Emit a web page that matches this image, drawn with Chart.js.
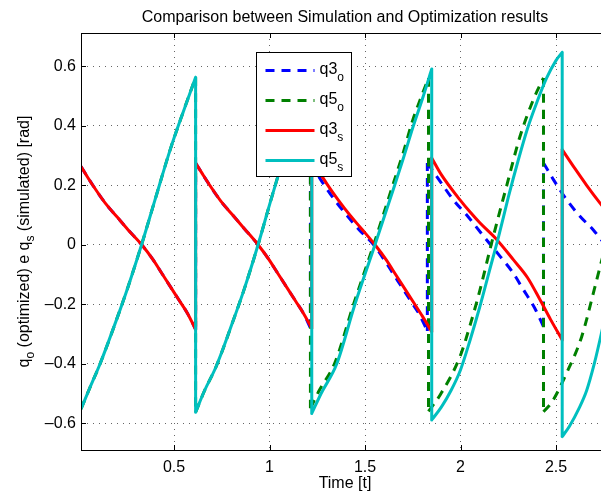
<!DOCTYPE html>
<html>
<head>
<meta charset="utf-8">
<script src="https://cdn.jsdelivr.net/npm/chart.js@4.4.0/dist/chart.umd.min.js"></script>
<style>
  html, body { margin: 0; padding: 0; background: #fff; overflow: hidden; }
  #wrap { width: 615px; height: 495px; }
</style>
</head>
<body>
<div id="wrap"><canvas id="chart" width="615" height="495"></canvas></div>
<script>
// Datos (tiempo en s, ángulos en rad)
const tQ3o = [0.013, 0.04, 0.08, 0.14, 0.2, 0.26, 0.331, 0.39, 0.44, 0.49, 0.53, 0.57, 0.613,
              0.613, 0.647, 0.687, 0.747, 0.807, 0.867, 0.94, 0.997, 1.047, 1.097, 1.137, 1.177, 1.214,
              1.214, 1.25, 1.29, 1.35, 1.41, 1.47, 1.545, 1.60, 1.65, 1.70, 1.74, 1.785, 1.826,
              1.826, 1.893, 1.962, 2.032, 2.119, 2.207, 2.27, 2.329, 2.39, 2.434,
              2.434, 2.486, 2.556, 2.626, 2.695, 2.736, 2.78];
const q3o  = [0.263, 0.235, 0.195, 0.14, 0.095, 0.05, 0, -0.05, -0.10, -0.15, -0.19, -0.23, -0.285,
              0.275, 0.24, 0.20, 0.145, 0.10, 0.055, 0, -0.05, -0.10, -0.15, -0.19, -0.23, -0.28,
              0.275, 0.237, 0.197, 0.143, 0.095, 0.05, 0, -0.05, -0.10, -0.15, -0.19, -0.235, -0.29,
              0.275, 0.213, 0.151, 0.10, 0.03, -0.039, -0.09, -0.151, -0.215, -0.275,
              0.275, 0.219, 0.151, 0.095, 0.05, 0.017, -0.01];

const tQ5o = [0.013, 0.06, 0.113, 0.2, 0.26, 0.33, 0.40, 0.48, 0.55, 0.613,
              0.613, 0.66, 0.72, 0.807, 0.867, 0.94, 1.007, 1.087, 1.157, 1.214,
              1.214, 1.26, 1.34, 1.44, 1.545, 1.65, 1.70, 1.75, 1.79, 1.832,
              1.832, 1.893, 1.997, 2.05, 2.102, 2.16, 2.242, 2.311, 2.381, 2.434,
              2.434, 2.477, 2.556, 2.634, 2.704, 2.74, 2.78];
const q5o  = [-0.552, -0.48, -0.40, -0.25, -0.14, 0, 0.15, 0.32, 0.45, 0.563,
              -0.563, -0.49, -0.41, -0.26, -0.15, 0, 0.15, 0.32, 0.45, 0.555,
              -0.55, -0.49, -0.40, -0.20, 0, 0.21, 0.31, 0.42, 0.49, 0.561,
              -0.56, -0.505, -0.376, -0.27, -0.151, 0, 0.2, 0.364, 0.488, 0.561,
              -0.561, -0.53, -0.43, -0.309, -0.14, -0.05, 0.04];

const tQ3s = [0.013, 0.04, 0.08, 0.14, 0.2, 0.26, 0.331, 0.39, 0.44, 0.49, 0.53, 0.57, 0.613,
              0.613, 0.647, 0.687, 0.747, 0.807, 0.867, 0.94, 0.997, 1.047, 1.097, 1.137, 1.177, 1.221,
              1.221, 1.26, 1.30, 1.36, 1.42, 1.48, 1.552, 1.61, 1.66, 1.71, 1.75, 1.80, 1.849,
              1.849, 1.90, 1.997, 2.05, 2.102, 2.19, 2.276, 2.35, 2.416, 2.47, 2.532,
              2.532, 2.6, 2.66, 2.73, 2.78];
const q3s  = [0.263, 0.235, 0.195, 0.14, 0.095, 0.05, 0, -0.05, -0.10, -0.15, -0.19, -0.23, -0.285,
              0.275, 0.24, 0.20, 0.145, 0.10, 0.055, 0, -0.05, -0.10, -0.15, -0.19, -0.23, -0.28,
              0.285, 0.245, 0.205, 0.15, 0.10, 0.055, 0, -0.05, -0.10, -0.15, -0.19, -0.24, -0.292,
              0.292, 0.235, 0.151, 0.11, 0.073, 0.017, -0.05, -0.11, -0.185, -0.25, -0.32,
              0.32, 0.255, 0.2, 0.14, 0.10];

const tQ5s = [0.013, 0.06, 0.113, 0.2, 0.26, 0.33, 0.40, 0.48, 0.55, 0.613,
              0.613, 0.66, 0.72, 0.807, 0.867, 0.94, 1.007, 1.087, 1.157, 1.221,
              1.221, 1.27, 1.352, 1.447, 1.552, 1.655, 1.70, 1.753, 1.80, 1.849,
              1.849, 1.90, 1.95, 2.00, 2.05, 2.10, 2.15, 2.20, 2.25, 2.30, 2.35, 2.40, 2.45, 2.50, 2.532,
              2.532, 2.57, 2.62, 2.66, 2.70, 2.74, 2.78];
const q5s  = [-0.552, -0.48, -0.40, -0.25, -0.14, 0, 0.15, 0.32, 0.45, 0.563,
              -0.563, -0.49, -0.41, -0.26, -0.15, 0, 0.15, 0.32, 0.45, 0.565,
              -0.567, -0.50, -0.40, -0.20, 0, 0.2, 0.29, 0.40, 0.49, 0.591,
              -0.589, -0.545, -0.49, -0.42, -0.32, -0.21, -0.09, 0.03, 0.16, 0.28, 0.39, 0.48, 0.56, 0.62, 0.647,
              -0.645, -0.61, -0.55, -0.49, -0.40, -0.29, -0.17];

const xTicks = [0.5, 1, 1.5, 2, 2.5];
const yTicks = [-0.6, -0.4, -0.2, 0, 0.2, 0.4, 0.6];

const FONT = "'Liberation Sans', Arial, Helvetica, sans-serif";

// Convierte a puntos; los saltos verticales se dibujan como tramo aparte
function toPoints(t, v) {
    const out = [];
    for (let i = 0; i < t.length; i++) {
        if (i > 0 && t[i] - t[i - 1] < 0.005) {
            out.push({ x: t[i - 1], y: null }, { x: t[i - 1], y: v[i - 1] },
                     { x: t[i], y: v[i] }, { x: t[i], y: null });
        }
        out.push({ x: t[i], y: v[i] });
    }
    return out;
}

const series = [
    { label: ['q3', 'o'], t: tQ3o, v: q3o, color: 'rgb(0, 0, 255)', dash: [9, 7], order: 3 },
    { label: ['q5', 'o'], t: tQ5o, v: q5o, color: 'rgb(0, 128, 0)', dash: [9, 7], order: 2 },
    { label: ['q3', 's'], t: tQ3s, v: q3s, color: 'rgb(255, 0, 0)', dash: [], order: 1 },
    { label: ['q5', 's'], t: tQ5s, v: q5s, color: 'rgb(0, 191, 191)', dash: [], order: 0 }
];

// Título, leyenda, marco y ticks interiores (estilo MATLAB)
const matlabStyle = {
    id: 'matlabStyle',
    afterDatasetsDraw(chart) {
        const ctx = chart.ctx;
        const a = chart.chartArea;
        const xs = chart.scales.x, ys = chart.scales.y;
        ctx.save();
        ctx.strokeStyle = '#000';
        ctx.lineWidth = 1;
        ctx.setLineDash([]);
        ctx.strokeRect(Math.round(a.left) + 0.5, Math.round(a.top) + 0.5,
                       Math.round(a.right - a.left), Math.round(a.bottom - a.top));
        ctx.beginPath();
        xTicks.forEach(v => {
            const px = Math.round(xs.getPixelForValue(v)) + 0.5;
            ctx.moveTo(px, a.bottom); ctx.lineTo(px, a.bottom - 5);
            ctx.moveTo(px, a.top); ctx.lineTo(px, a.top + 5);
        });
        yTicks.forEach(v => {
            const py = Math.round(ys.getPixelForValue(v)) + 0.5;
            ctx.moveTo(a.left, py); ctx.lineTo(a.left + 5, py);
            ctx.moveTo(a.right, py); ctx.lineTo(a.right - 5, py);
        });
        ctx.stroke();

        // título
        ctx.fillStyle = '#000';
        ctx.font = '16px ' + FONT;
        ctx.textAlign = 'center';
        ctx.textBaseline = 'alphabetic';
        ctx.fillText('Comparison between Simulation and Optimization results', (a.left + a.right) / 2, 22);

        // leyenda
        const bx = Math.round(a.left) + 175.5, by = Math.round(a.top) + 19.5;
        ctx.fillStyle = '#fff';
        ctx.fillRect(bx, by, 95, 124);
        ctx.strokeRect(bx, by, 95, 124);
        series.forEach((s, i) => {
            const y = by + 18 + i * 30;
            ctx.strokeStyle = s.color;
            ctx.lineWidth = 3;
            ctx.setLineDash(s.dash);
            ctx.beginPath();
            ctx.moveTo(bx + 9, y); ctx.lineTo(bx + 58, y);
            ctx.stroke();
            ctx.setLineDash([]);
            ctx.fillStyle = '#000';
            ctx.textBaseline = 'middle';
            ctx.textAlign = 'left';
            ctx.font = '16px ' + FONT;
            ctx.fillText(s.label[0], bx + 63, y - 1);
            const w = ctx.measureText(s.label[0]).width;
            ctx.font = '12px ' + FONT;
            ctx.fillText(s.label[1], bx + 63 + w, y + 7);
        });

        // título del eje y con subíndices
        const parts = [['q', 16, 0], ['o', 12, 6], [' (optimized) e q', 16, 0], ['s', 12, 6], [' (simulated) [rad]', 16, 0]];
        let total = 0;
        parts.forEach(p => { ctx.font = p[1] + 'px ' + FONT; total += ctx.measureText(p[0]).width; });
        ctx.translate(25, (a.top + a.bottom) / 2);
        ctx.rotate(-Math.PI / 2);
        ctx.fillStyle = '#000';
        ctx.textBaseline = 'middle';
        let x = -total / 2;
        parts.forEach(p => {
            ctx.font = p[1] + 'px ' + FONT;
            ctx.fillText(p[0], x, p[2]);
            x += ctx.measureText(p[0]).width;
        });
        ctx.restore();
    }
};

const chart = new Chart(document.getElementById('chart'), {
    type: 'scatter',
    data: {
        datasets: series.map(s => ({
            label: s.label.join('_'),
            data: toPoints(s.t, s.v),
            showLine: true,
            spanGaps: false,
            borderColor: s.color,
            backgroundColor: s.color,
            borderWidth: 3,
            borderDash: s.dash,
            borderCapStyle: s.dash.length ? 'butt' : 'round',
            borderJoinStyle: 'round',
            pointRadius: 0,
            cubicInterpolationMode: 'monotone',
            order: s.order
        }))
    },
    options: {
        responsive: false,
        animation: false,
        layout: { padding: { left: 0, right: 6, top: 33, bottom: 0 } },
        plugins: {
            legend: { display: false },
            tooltip: { enabled: false },
            title: { display: false }
        },
        scales: {
            x: {
                type: 'linear',
                min: 0.013,
                max: 2.777,
                afterFit: s => { s.height = 45; },
                afterBuildTicks: s => { s.ticks = xTicks.map(v => ({ value: v })); },
                ticks: {
                    color: '#000',
                    font: { family: FONT, size: 16 },
                    padding: 8,
                    maxRotation: 0,
                    callback: v => String(v)
                },
                grid: { color: 'rgba(0,0,0,0.6)', lineWidth: 1, drawTicks: false },
                border: { display: false, dash: [1, 5] },
                title: {
                    display: true,
                    text: 'Time [t]',
                    color: '#000',
                    font: { family: FONT, size: 16 },
                    padding: { top: 0, bottom: 2 }
                }
            },
            y: {
                type: 'linear',
                min: -0.69,
                max: 0.712,
                afterFit: s => { s.width = 81; },
                afterBuildTicks: s => { s.ticks = yTicks.map(v => ({ value: v })); },
                ticks: {
                    color: '#000',
                    font: { family: FONT, size: 16 },
                    padding: 5,
                    callback: v => (Math.round(v * 10) / 10).toString().replace('-', '\u2013')
                },
                grid: { color: 'rgba(0,0,0,0.6)', lineWidth: 1, drawTicks: false },
                border: { display: false, dash: [1, 5] }
            }
        }
    },
    plugins: [matlabStyle]
});
</script>
</body>
</html>
